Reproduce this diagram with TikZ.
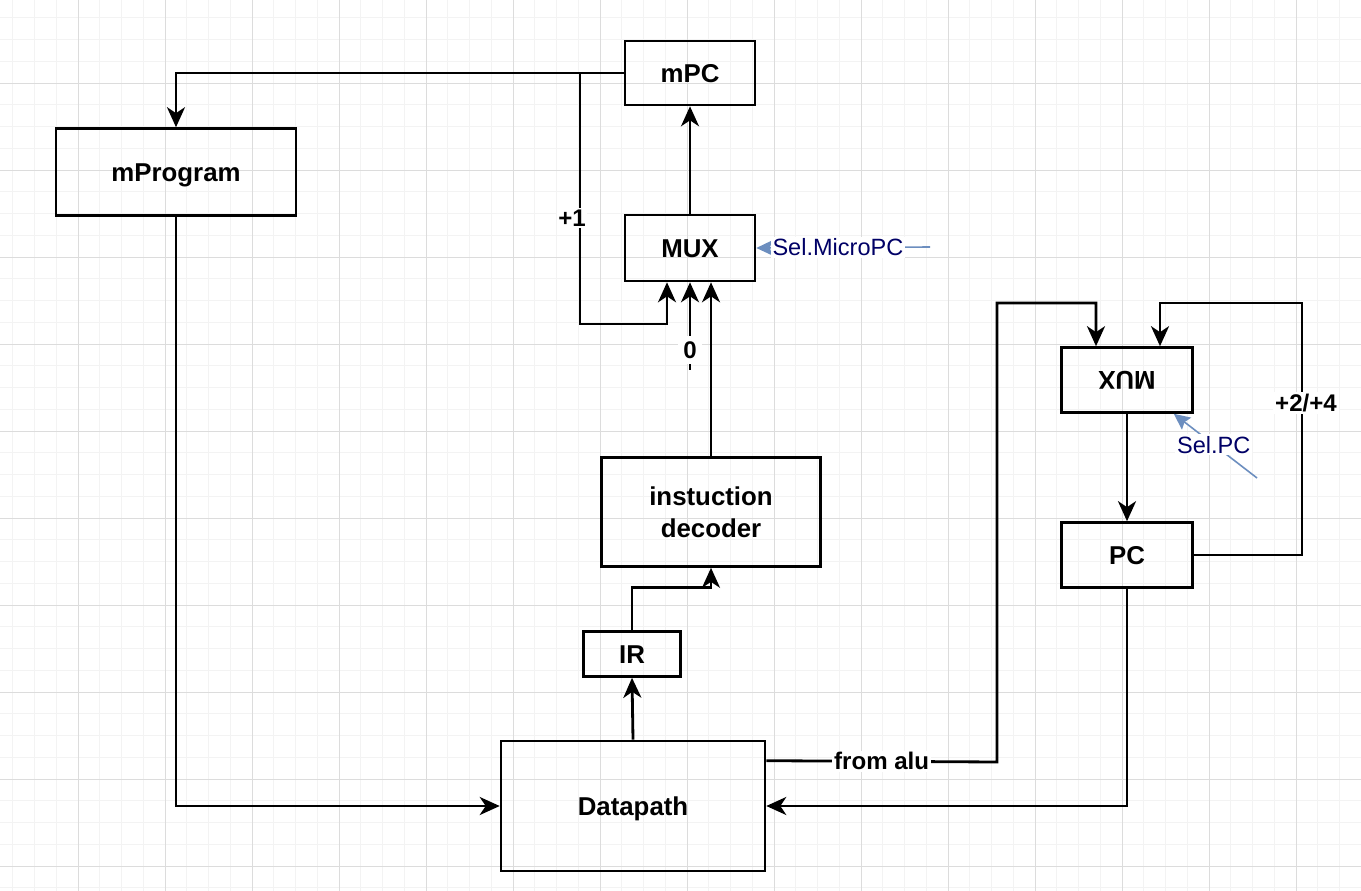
\documentclass[tikz,border=0pt]{standalone}
\usepackage{fontspec}
\setmainfont{Liberation Sans}
\usetikzlibrary{arrows.meta,calc}

\definecolor{selblue}{HTML}{6C8EBF}
\definecolor{selnavy}{HTML}{000066}
\definecolor{gridminor}{HTML}{F3F3F3}
\definecolor{gridmajor}{HTML}{DCDCDC}

\begin{document}
\begin{tikzpicture}[x=0.02cm,y=-0.02cm]

                    \tikzset{block/.style = {shape=rectangle,draw,line width=1.5pt,inner sep=0pt,
                                             text height=14pt,text depth=3pt,
                                             font=\fontsize{14.7}{18.2}\selectfont\bfseries}}
                    \tikzset{edge/.style = {->,line width=1.6pt,> = {Stealth[length=0.4cm,width=0.36cm,inset=0.12cm]}}}
                    \tikzset{wire/.style = {fill=white,inner sep=1pt,font=\fontsize{13.7}{16}\selectfont\bfseries}}
                    \tikzset{sel/.style = {->,draw=selblue,line width=0.9pt,> = {Stealth[length=0.32cm,width=0.3cm,inset=0.05cm,fill=selblue]}}}
                    \tikzset{sellabel/.style = {fill=white,inner sep=1pt,text=selnavy,font=\fontsize{13.4}{16}\selectfont}}

                    % page and grid
                    \useasboundingbox (0,0) rectangle (1361,891);
                    \fill[white] (0,0) rectangle (1361,891);
                    \foreach \i in {-3,...,59} \draw[gridminor,line width=0.5pt] ({78+21.75*\i},0) -- ++(0,891);
                    \foreach \i in {-3,...,37} \draw[gridminor,line width=0.5pt] (0,{83+21.75*\i}) -- ++(1361,0);
                    \foreach \i in {0,...,14} \draw[gridmajor,line width=0.5pt] ({78+87*\i},0) -- ++(0,891);
                    \foreach \i in {0,...,9} \draw[gridmajor,line width=0.5pt] (0,{83+87*\i}) -- ++(1361,0);

                    % blocks
                    \node[block,minimum width=2.6cm,minimum height=1.28cm] (mpc) at (690,73) {mPC};
                    \node[block,minimum width=4.8cm,minimum height=1.74cm] (mprog) at (176,172) {mProgram};
                    \node[block,minimum width=2.6cm,minimum height=1.32cm] (mux) at (690,248) {MUX};
                    \node[block,minimum width=4.38cm,minimum height=2.18cm,align=center,text height=,text depth=] (dec) at (711,512) {instuction\\decoder};
                    \node[block,minimum width=1.94cm,minimum height=0.9cm] (ir) at (632,654) {IR};
                    \node[block,minimum width=5.28cm,minimum height=2.6cm] (dp) at (633,806) {Datapath};
                    \node[block,minimum width=2.62cm,minimum height=1.3cm,text height=,text depth=] (muxr) at (1127,380) {\rotatebox{180}{MUX}};
                    \node[block,minimum width=2.62cm,minimum height=1.3cm] (pc) at (1127,555) {PC};

                    \coordinate (split1) at (580,73);
                    \coordinate (zero) at (690,370);
                    \coordinate (aluout) at ($(dp.north east)+(0,21)$);
                    \coordinate (selm) at (930,247);
                    \coordinate (selp) at (1257,478);

                    % micro sequencer
                    \draw[edge] (mpc.west) -| (mprog.north);
                    \draw[edge] (split1) -- (580,324) -| ($(mux.south)+(-23,0)$);
                    \node[wire] (plusone) at (572,218) {+1};
                    \draw[edge] (mux.north) -- (mpc.south);
                    \draw[edge] (zero) -- (mux.south);
                    \node[wire,inner sep=3pt] (zerolbl) at (690,350) {0};
                    \draw[edge] (dec.north) -- ($(mux.south)+(21,0)$);
                    \draw[edge] (ir.north) -- ++(0,-43) -| (dec.south);
                    \draw[edge] (dp.north) -- (ir.south);
                    \draw[edge] (mprog.south) |- (dp.west);

                    % program counter
                    \draw[edge] (aluout) -- node[wire,midway] {from alu} (997,762) -- (997,303) -| ($(muxr.north)+(-31,0)$);
                    \draw[edge] (pc.east) -- (1302,555) -- (1302,303) -| ($(muxr.north)+(33,0)$);
                    \node[wire] (plustwo) at (1306,403) {+2/+4};
                    \draw[edge] (muxr.south) -- (pc.north);
                    \draw[edge] (pc.south) |- (dp.east);

                    % select signals
                    \draw[sel] (selm) -- node[sellabel,pos=0.53] {Sel.MicroPC} (mux.east);
                    \draw[sel] (selp) -- node[sellabel,pos=0.52] {Sel.PC} ($(muxr.south east)+(-20,0)$);

                \end{tikzpicture}
\end{document}
